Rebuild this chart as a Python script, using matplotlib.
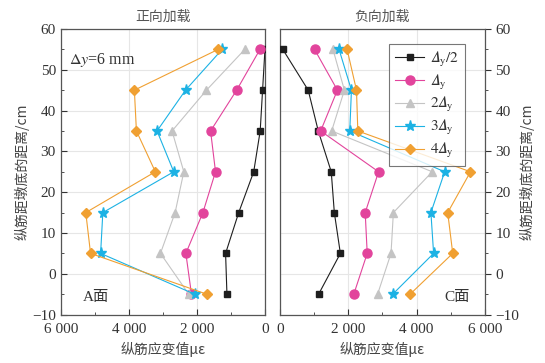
import matplotlib
matplotlib.use("Agg")
import matplotlib.pyplot as plt
from matplotlib.ticker import MultipleLocator, FuncFormatter

plt.rcParams['font.family'] = ['Liberation Serif', 'Noto Sans CJK SC']
plt.rcParams['mathtext.fontset'] = 'stix'

heights = [55, 45, 35, 25, 15, 5, -5]
series_labels = ['$\U0001D6E5_{\\rm y}/2$', '$\U0001D6E5_{\\rm y}$',
                 '$2\U0001D6E5_{\\rm y}$', '$3\U0001D6E5_{\\rm y}$',
                 '$4\U0001D6E5_{\\rm y}$']

# Positive loading (A face)
pos_half = [10, 80, 150, 340, 780, 1165, 1125]
pos_1 = [155, 840, 1605, 1460, 1830, 2330, 2165]
pos_2 = [600, 1725, 2735, 2390, 2645, 3075, 2245]
pos_3 = [1265, 2340, 3175, 2685, 4765, 4830, 2070]
pos_4 = [1380, 3840, 3780, 3225, 5265, 5125, 1715]

# Negative loading (C face)
neg_half = [80, 825, 1120, 1500, 1590, 1767, 1130]
neg_1 = [1010, 1680, 1190, 2886, 2494, 2553, 2160]
neg_2 = [1550, 1885, 1512, 4457, 3319, 3250, 2857]
neg_3 = [1728, 2091, 2042, 4821, 4418, 4497, 3299]
neg_4 = [1964, 2239, 2278, 5577, 4910, 5057, 3809]

colors = ['#1e1e1e', '#e2449c', '#c4c4c4', '#1cb2e4', '#f0a032']
markers = ['s', 'o', '^', '*', 'D']
msizes = [5, 6.5, 6, 8, 5]

fig = plt.figure(figsize=(5.45, 3.63), dpi=100)
axL = fig.add_axes([0.1114, 0.1333, 0.3754, 0.787])
axR = fig.add_axes([0.5138, 0.1333, 0.3760, 0.787])

def fmt(v, pos):
    v = int(round(v))
    if v == 0:
        return '0'
    return f'{abs(v):,}'.replace(',', ' ')

def ytfmt(v, pos):
    v = int(round(v))
    return ('\u2212' + str(-v)) if v < 0 else str(v)

for ax, data in [(axL, [pos_half, pos_1, pos_2, pos_3, pos_4]),
                 (axR, [neg_half, neg_1, neg_2, neg_3, neg_4])]:
    for vals, c, m, ms, lab in zip(data, colors, markers, msizes, series_labels):
        ax.plot(vals, heights, color=c, marker=m, markersize=ms, linewidth=0.8,
                label=lab, zorder=3)
    ax.set_ylim(-10, 60)
    ax.yaxis.set_major_locator(MultipleLocator(10))
    ax.yaxis.set_minor_locator(MultipleLocator(5))
    ax.xaxis.set_major_locator(MultipleLocator(2000))
    ax.xaxis.set_minor_locator(MultipleLocator(1000))
    ax.xaxis.set_major_formatter(FuncFormatter(fmt))
    ax.yaxis.set_major_formatter(FuncFormatter(ytfmt))
    ax.grid(True, which='major', color='#e6e6e6', linewidth=0.8, zorder=0)
    ax.tick_params(axis='both', which='both', labelsize=11, colors='#333333')
    ax.tick_params(axis='x', which='major', direction='in', length=4, pad=6)
    ax.tick_params(axis='x', which='minor', direction='in', length=2.5, pad=6)
    for sp in ax.spines.values():
        sp.set_color('#555555')
        sp.set_linewidth(0.9)
    ax.set_xlabel('纵筋应变值με', fontsize=10, color='#444444',
                  family=['Noto Sans CJK SC', 'Liberation Serif'], labelpad=4)

axL.set_xlim(6000, 0)
axR.set_xlim(0, 6000)

axL.tick_params(axis='y', which='major', direction='in', length=4)
axL.tick_params(axis='y', which='minor', direction='in', length=2.5)
axR.yaxis.tick_right()
axR.yaxis.set_label_position('right')
axR.tick_params(axis='y', which='major', direction='out', length=4, left=False, right=True)
axR.tick_params(axis='y', which='minor', direction='out', length=2.5, left=False, right=True)

ylab = '纵筋距墩底的距离/cm'
axL.set_ylabel(ylab, fontsize=10, color='#444444',
               family=['Noto Sans CJK SC', 'Liberation Serif'], labelpad=2)
axR.set_ylabel(ylab, fontsize=10, color='#444444', rotation=90,
               family=['Noto Sans CJK SC', 'Liberation Serif'], labelpad=0)

axL.set_title('正向加载', fontsize=10, color='#555555',
              family=['Noto Sans CJK SC', 'Liberation Serif'], pad=6)
axR.set_title('负向加载', fontsize=10, color='#555555',
              family=['Noto Sans CJK SC', 'Liberation Serif'], pad=6)

axL.text(0.04, 0.89, r'$\Delta\mathit{y}$=6 mm', transform=axL.transAxes,
         fontsize=11.5, color='#333333', ha='left', va='center')
axL.text(0.11, 0.06, 'A面', transform=axL.transAxes, fontsize=11, color='#333333',
         ha='left', va='center', family=['Liberation Serif', 'Noto Sans CJK SC'])
axR.text(0.80, 0.06, 'C面', transform=axR.transAxes, fontsize=11, color='#333333',
         ha='left', va='center', family=['Liberation Serif', 'Noto Sans CJK SC'])

leg = axR.legend(loc='upper right', fontsize=11, frameon=True, fancybox=False,
                 edgecolor='#555555', handlelength=1.9, borderpad=0.4,
                 labelspacing=0.25, handletextpad=0.4,
                 bbox_to_anchor=(0.94, 0.975))
leg.get_frame().set_linewidth(0.8)
for t in leg.get_texts():
    t.set_color('#333333')

fig.savefig('out.png', dpi=100)
